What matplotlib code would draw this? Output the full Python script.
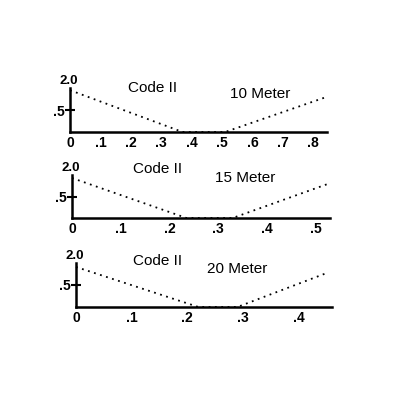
import matplotlib
matplotlib.use("Agg")
import matplotlib.pyplot as plt

plt.rcParams['font.family'] = ['Liberation Sans', 'DejaVu Sans']

# band names and x tick labels per panel
bands = ["10 Meter", "15 Meter", "20 Meter"]
xticks_10 = [0, .1, .2, .3, .4, .5, .6, .7, .8]
xticks_15 = [0, .1, .2, .3, .4, .5]
xticks_20 = [0, .1, .2, .3, .4]
xlabels_10 = ["0", ".1", ".2", ".3", ".4", ".5", ".6", ".7", ".8"]
xlabels_15 = ["0", ".1", ".2", ".3", ".4", ".5"]
xlabels_20 = ["0", ".1", ".2", ".3", ".4"]

# dotted curves
x_10 = [0, 0.37, 0.51, 0.845]
y_10 = [0.95, 0, 0, 0.80]
x_15 = [0, 0.235, 0.33, 0.53]
y_15 = [0.93, 0, 0, 0.81]
x_20 = [0, 0.22, 0.29, 0.45]
y_20 = [0.91, 0, 0, 0.77]

fig = plt.figure(figsize=(4, 4), dpi=100)

panels = [
    ([0.175, 0.67, 0.6425, 0.11], 0.845, x_10, y_10, xticks_10, xlabels_10,
     (0.32, 1.0), (0.74, 0.87)),
    ([0.18, 0.455, 0.645, 0.1075], 0.53, x_15, y_15, xticks_15, xlabels_15,
     (0.33, 1.15), (0.67, 0.93)),
    ([0.19, 0.2325, 0.64, 0.11], 0.46, x_20, y_20, xticks_20, xlabels_20,
     (0.32, 1.05), (0.63, 0.87)),
]

for band, (rect, xmax, xs, ys, xt, xl, code_pos, band_pos) in zip(bands, panels):
    ax = fig.add_axes(rect)
    ax.plot(xs, ys, color="black", linestyle=(0, (1, 2.5)), linewidth=1.3,
            clip_on=False)
    ax.set_xlim(0, xmax)
    ax.set_ylim(0, 1)
    for s in ["top", "right"]:
        ax.spines[s].set_visible(False)
    for s in ["left", "bottom"]:
        ax.spines[s].set_linewidth(1.8)
    ax.set_xticks(xt)
    ax.set_xticklabels(xl, fontsize=10, fontweight="bold")
    ax.tick_params(axis="x", length=0, pad=3)
    ax.set_yticks([0.5])
    ax.set_yticklabels([".5"], fontsize=10, fontweight="bold")
    ax.tick_params(axis="y", direction="inout", length=7, width=1.5, pad=0)
    ax.text(-0.005, 1.03, "2.0", transform=ax.transAxes, ha="center",
            va="bottom", fontsize=9.5, fontweight="bold")
    ax.text(code_pos[0], code_pos[1], "Code II", transform=ax.transAxes,
            ha="center", va="center", fontsize=11)
    ax.text(band_pos[0], band_pos[1], band, transform=ax.transAxes,
            ha="center", va="center", fontsize=11)

fig.savefig("out.png", dpi=100)
